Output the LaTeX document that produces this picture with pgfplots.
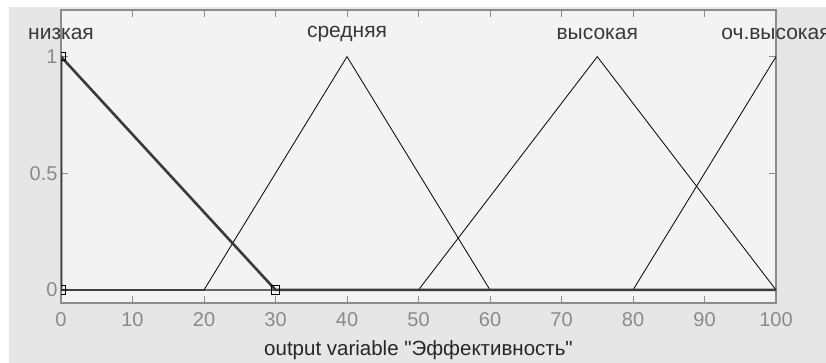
\documentclass[border=0pt]{standalone}
\usepackage{fontspec}
\setmainfont{Liberation Sans}
\usepackage{pgfplots}
\pgfplotsset{compat=1.18}
\definecolor{outerbg}{HTML}{E6E6E6}
\definecolor{innerbg}{HTML}{F3F3F3}
\definecolor{axgray}{HTML}{8C8C8C}
\definecolor{lblgray}{HTML}{8A8A8A}
\definecolor{mfsel}{HTML}{3A3A3A}
\definecolor{mfname}{HTML}{383838}
\begin{document}
\begin{tikzpicture}[x=1pt,y=1pt]
\useasboundingbox (0,0) rectangle (826,363);
\fill[white] (0,0) rectangle (826,363);
\fill[outerbg] (9,0) rectangle (826,356);
\begin{axis}[
    at={(61pt,60pt)}, anchor=south west,
    scale only axis, width=715pt, height=293pt,
    xmin=0, xmax=100, ymin=-0.056, ymax=1.2,
    axis background/.style={fill=innerbg},
    axis line style={axgray, line width=1.2pt},
    tick style={axgray, line width=1pt},
    major tick length=7pt, tick align=inside,
    xtick={0,10,...,100}, ytick={0,0.5,1},
    /pgf/number format/assume math mode=true,
    ticklabel style={font=\fontsize{20}{24}\selectfont, text=lblgray},
    xticklabel style={yshift=-6pt},
    yticklabel style={xshift=0pt},
    xlabel={output variable \textquotedbl Эффективность\textquotedbl},
    xlabel style={font=\fontsize{20.5}{24}\selectfont, text=black!85,
        at={(axis description cs:0.5,0)}, anchor=center, yshift=-47pt},
    clip marker paths=true,
    after end axis/.code={
        \node[font=\fontsize{21}{24}\selectfont, text=mfname] at (axis cs:0,1.098) {низкая};
        \node[font=\fontsize{21}{24}\selectfont, text=mfname] at (axis cs:40,1.098) {средняя};
        \node[font=\fontsize{21}{24}\selectfont, text=mfname] at (axis cs:75,1.098) {высокая};
        \node[font=\fontsize{21}{24}\selectfont, text=mfname] at (axis cs:100,1.098) {оч.высокая};
    },
]
% средняя
\addplot[black, line width=0.8pt] coordinates {(0,0) (20,0) (40,1) (60,0) (100,0)};
% высокая
\addplot[black, line width=0.8pt] coordinates {(0,0) (50,0) (75,1) (100,0)};
% оч.высокая
\addplot[black, line width=0.8pt] coordinates {(0,0) (80,0) (100,1)};
% низкая (selected)
\addplot[mfsel, line width=2.6pt] coordinates {(0,0) (0,1) (30,0) (100,0)};
\addplot[only marks, mark=square, mark size=4.3pt, mark options={black, line width=1pt}]
    coordinates {(0,1) (0,0) (30,0)};
\end{axis}
\end{tikzpicture}
\end{document}
